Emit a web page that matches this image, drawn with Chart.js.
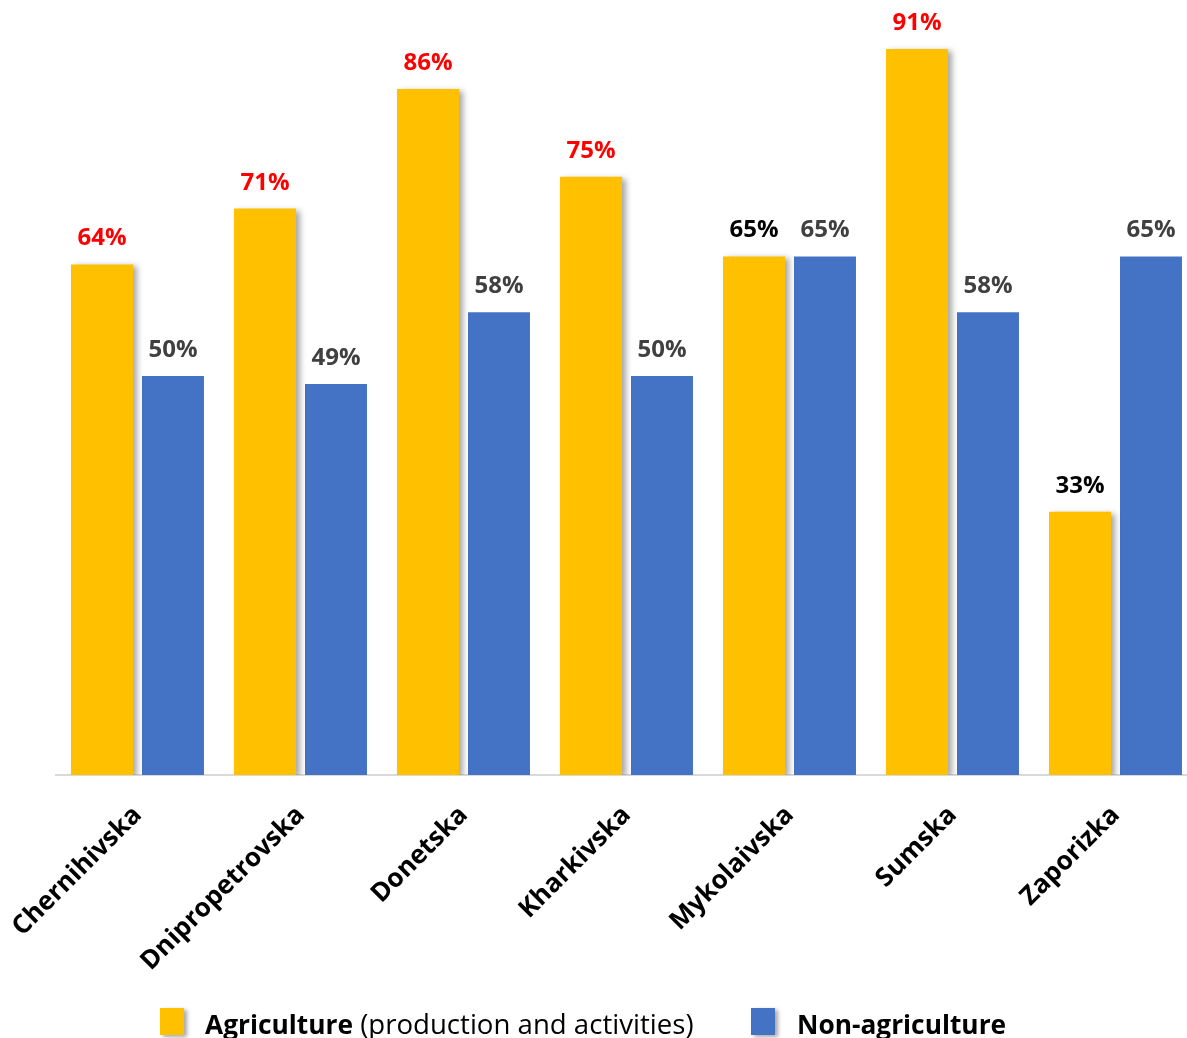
<!DOCTYPE html>
<html>
<head>
<meta charset="utf-8">
<script src="https://cdn.jsdelivr.net/npm/chart.js@4"></script>
<style>
  html, body { margin: 0; padding: 0; background: #fff; }
  #wrap { position: relative; width: 1187px; height: 1038px; overflow: hidden; }
  #c { position: absolute; left: 0; top: 0; }
  .leg { position: absolute; top: 1004px; font-family: "Open Sans", sans-serif; font-size: 27.6px; color: #000; white-space: nowrap; line-height: 38px; }
  .leg b { font-size: 26.3px; }
  .box { position: absolute; top: 1008px; width: 24px; height: 27px; box-shadow: 3px 2px 4px rgba(0,0,0,0.35); }
</style>
</head>
<body>
<div id="wrap">
  <canvas id="c" width="1210" height="1038"></canvas>
  <div class="box" style="left:160px;background:#FFC000;"></div>
  <div class="leg" style="left:205px;"><b>Agriculture</b> (production and activities)</div>
  <div class="box" style="left:751px;background:#4472C4;"></div>
  <div class="leg" style="left:797px;"><b>Non-agriculture</b></div>
</div>
<script>
const categories = ["Chernihivska", "Dnipropetrovska", "Donetska", "Kharkivska", "Mykolaivska", "Sumska", "Zaporizka"];
const agriculture = [64, 71, 86, 75, 65, 91, 33];
const nonAgriculture = [50, 49, 58, 50, 65, 58, 65];
const seriesNames = ["Agriculture (production and activities)", "Non-agriculture"];

const agLabelColors = ["#FF0000", "#FF0000", "#FF0000", "#FF0000", "#000000", "#FF0000", "#000000"];
const nonAgLabelColor = "#404040";

const shadowPlugin = {
  id: 'barShadow',
  beforeDatasetDraw(chart, args) {
    if (args.index === 0) {
      const ctx = chart.ctx;
      ctx.save();
      ctx.shadowColor = 'rgba(0,0,0,0.35)';
      ctx.shadowBlur = 6;
      ctx.shadowOffsetX = 4;
      ctx.shadowOffsetY = 2;
    }
  },
  afterDatasetDraw(chart, args) {
    if (args.index === 0) chart.ctx.restore();
  }
};

const labelPlugin = {
  id: 'valueLabels',
  afterDatasetsDraw(chart) {
    const ctx = chart.ctx;
    ctx.save();
    ctx.font = 'bold 24px "Open Sans", sans-serif';
    ctx.textAlign = 'center';
    ctx.textBaseline = 'alphabetic';
    chart.data.datasets.forEach((ds, di) => {
      const meta = chart.getDatasetMeta(di);
      meta.data.forEach((el, i) => {
        ctx.fillStyle = di === 0 ? agLabelColors[i] : nonAgLabelColor;
        ctx.fillText(ds.data[i] + '%', el.x, el.y - 19);
      });
    });
    ctx.restore();
  }
};

new Chart(document.getElementById('c'), {
  type: 'bar',
  data: {
    labels: categories,
    datasets: [
      { label: seriesNames[0], data: agriculture, backgroundColor: '#FFC000', borderWidth: 0 },
      { label: seriesNames[1], data: nonAgriculture, backgroundColor: '#4472C4', borderWidth: 0 }
    ]
  },
  options: {
    responsive: false,
    animation: false,
    devicePixelRatio: 1,
    layout: { padding: { left: 56, right: 13, top: 0, bottom: 0 } },
    datasets: { bar: { categoryPercentage: 0.871, barPercentage: 0.873 } },
    plugins: { legend: { display: false }, tooltip: { enabled: false } },
    scales: {
      x: {
        grid: { display: false },
        border: { display: true, color: '#D9D9D9', width: 2 },
        ticks: {
          color: '#000',
          font: { family: '"Open Sans", sans-serif', size: 26, weight: 'bold' },
          minRotation: 45,
          maxRotation: 45,
          padding: 17
        },
        afterFit(scale) {
          scale.height = 263;
          scale.paddingLeft = 0;
          scale.paddingRight = 0;
        }
      },
      y: {
        display: false,
        min: 0,
        max: 97.14
      }
    }
  },
  plugins: [shadowPlugin, labelPlugin]
});
</script>
</body>
</html>
